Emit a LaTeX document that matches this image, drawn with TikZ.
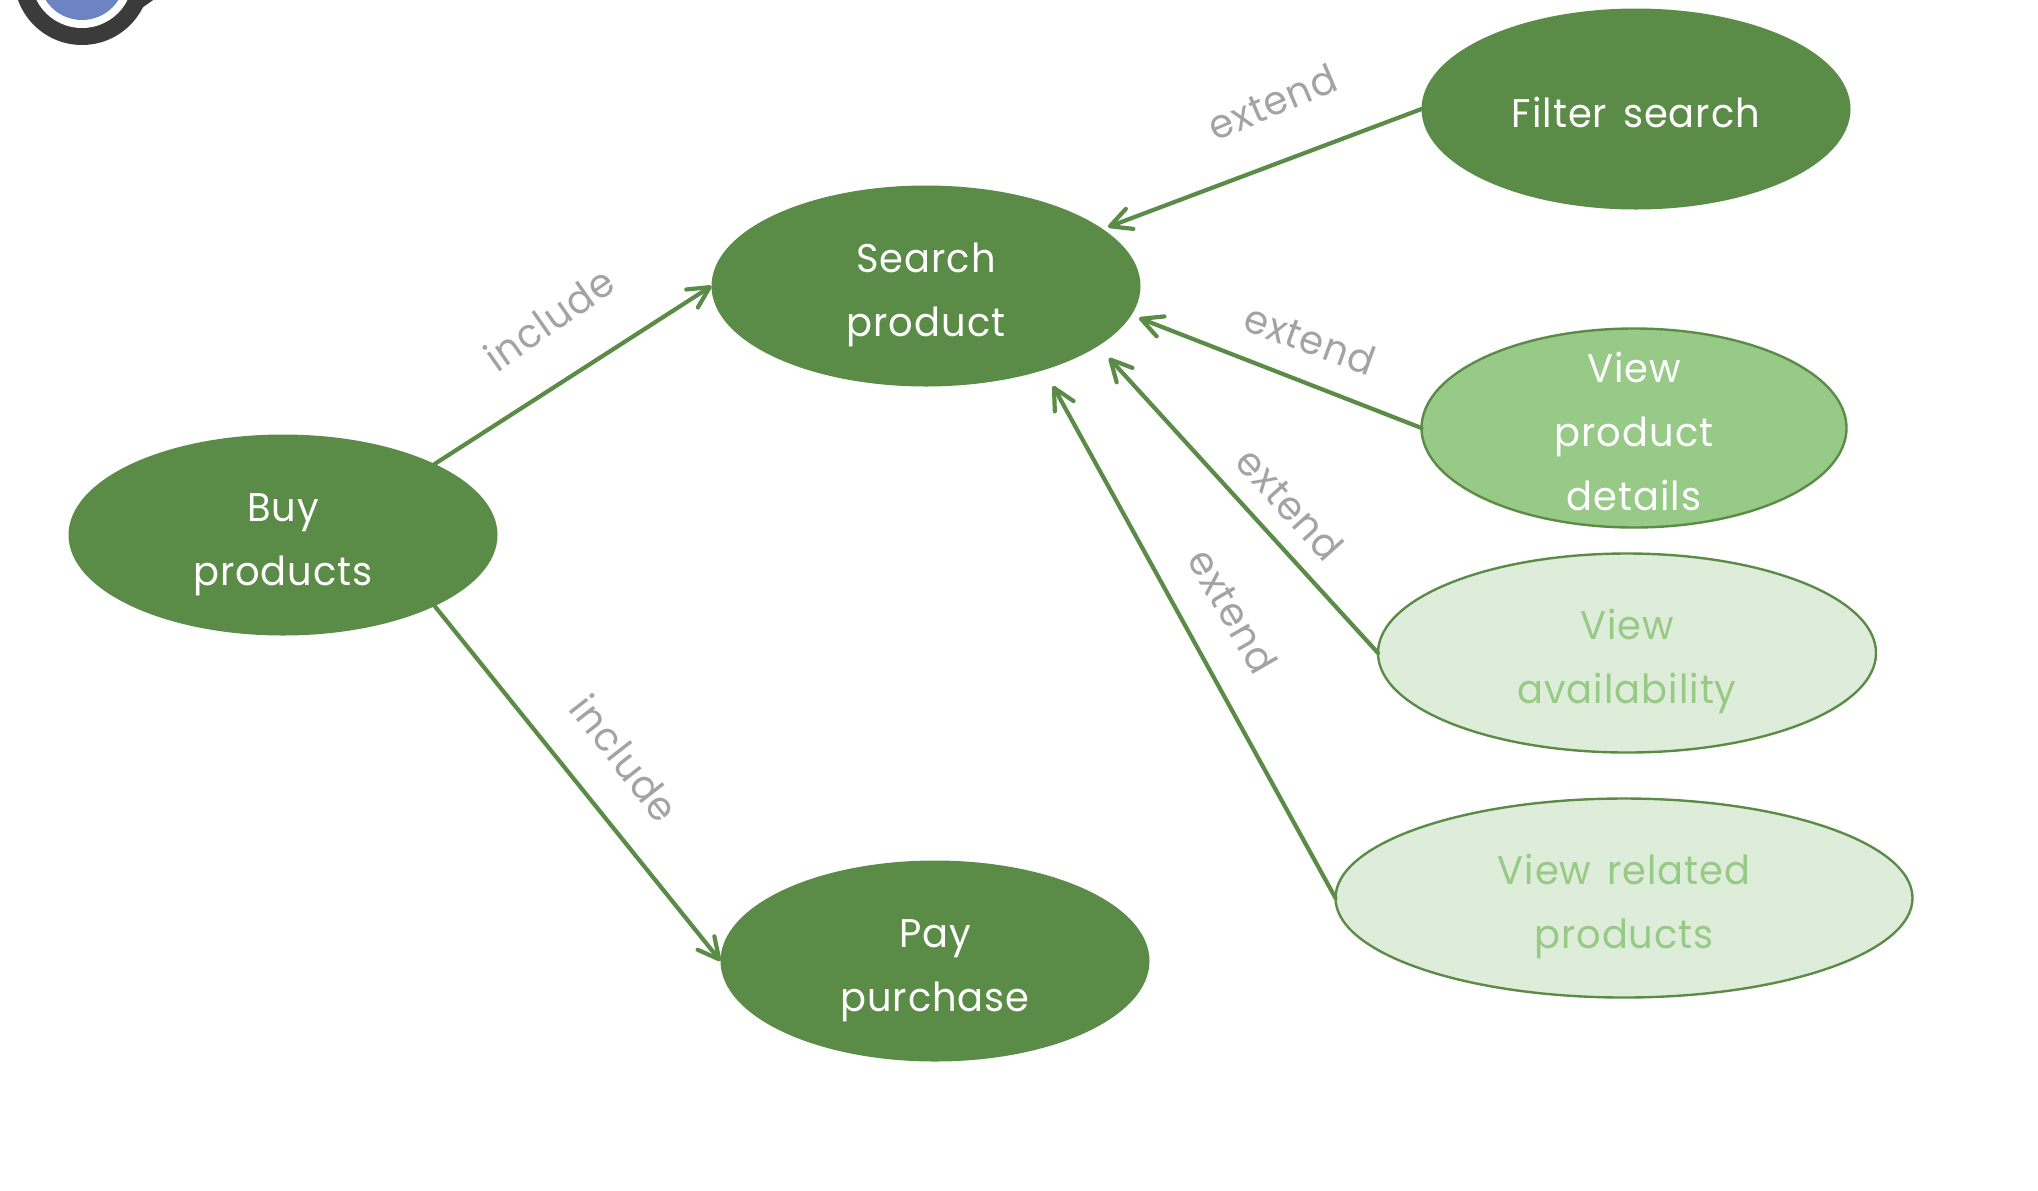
\documentclass[tikz,border=0pt]{standalone}
\usepackage{fontspec}
\setmainfont{Poppins}[FakeStretch=0.96,LetterSpace=2.5,WordSpace=1.4]
\usetikzlibrary{shapes.geometric,arrows.meta}
\definecolor{dkgreen}{HTML}{5B8C47}
\definecolor{midgreen}{HTML}{98CA87}
\definecolor{palegreen}{HTML}{DEEDD9}
\definecolor{lblgray}{HTML}{A3A3A3}
\definecolor{ringdark}{HTML}{3B3B3B}
\definecolor{ringblue}{HTML}{6C84C2}
\newcommand\ltx[1]{\makebox[0pt]{\smash{\raisebox{-8pt}{\begin{tabular}{@{}c@{}}#1\end{tabular}}}}}
\tikzset{
  x=0.5pt,y=-0.5pt,
  usecase/.style={ellipse,inner sep=0pt,outer sep=0pt,font=\fontsize{20}{32}\selectfont},
  solidcase/.style={usecase,fill=dkgreen,text=white,minimum width=214.5pt,minimum height=100.5pt},
  midcase/.style={usecase,fill=midgreen,draw=dkgreen,line width=1.2pt,text=white},
  palecase/.style={usecase,fill=palegreen,draw=dkgreen,line width=1.2pt,text=midgreen},
  link/.style={draw=dkgreen,line width=2.1pt,line cap=round,-{Straight Barb[length=10.5pt,width=10.7pt,round]}},
  lbl/.style={text=lblgray,inner sep=0pt,font=\fontsize{20}{24}\selectfont},
}
\begin{document}
\begin{tikzpicture}
\useasboundingbox (0,0) rectangle (2038,1190);
% icon, cut by the top edge
\begin{scope}
\clip (0,0) rectangle (2038,1190);
\fill[ringdark] (82,-23) circle[radius=34pt];
\fill[ringdark] (120,-5) -- (156,-2) -- (139,10) -- (125,25) -- cycle;
\fill[white] (82,-23) circle[radius=25.5pt];
\fill[ringblue] (82,-23) circle[radius=21.5pt];
\end{scope}
% use cases
\node[solidcase] (filter) at (1636,109) {\ltx{Filter search}};
\node[solidcase] (search) at (926,286) {\ltx{Search\\product}};
\node[solidcase] (buy) at (283,535) {\ltx{Buy\\products}};
\node[solidcase] (pay) at (935,961) {\ltx{Pay\\purchase}};
\node[midcase,minimum width=212.5pt,minimum height=99.5pt] (details) at (1634,428) {\ltx{View\\product\\details}};
\node[palecase,minimum width=249pt,minimum height=99.5pt] (avail) at (1627,653) {\ltx{View\\availability}};
\node[palecase,minimum width=288.5pt,minimum height=99.5pt] (related) at (1624,898) {\ltx{View related\\products}};
% free ends near the search ellipse
\coordinate (tipfilter) at (1108,227);
\coordinate (tipdetails) at (1139,318);
\coordinate (tipavail) at (1109,358);
\coordinate (tiprelated) at (1053,386);
% connectors
\draw[link] (buy.north east) -- (search.west);
\draw[link] (buy.south east) -- (pay.west);
\draw[link] (filter.west) -- (tipfilter);
\draw[link] (details.west) -- (tipdetails);
\draw[link] (avail.west) -- (tipavail);
\draw[link] (related.west) -- (tiprelated);
% labels
\node[lbl,rotate=35] (inc1) at (549,319) {include};
\node[lbl,rotate=-52] (inc2) at (625,758) {include};
\node[lbl,rotate=23] (ext1) at (1272,102) {extend};
\node[lbl,rotate=-20] (ext2) at (1310,339) {extend};
\node[lbl,rotate=-48] (ext3) at (1290,504) {extend};
\node[lbl,rotate=-60] (ext4) at (1233,611) {extend};
\end{tikzpicture}
\end{document}
